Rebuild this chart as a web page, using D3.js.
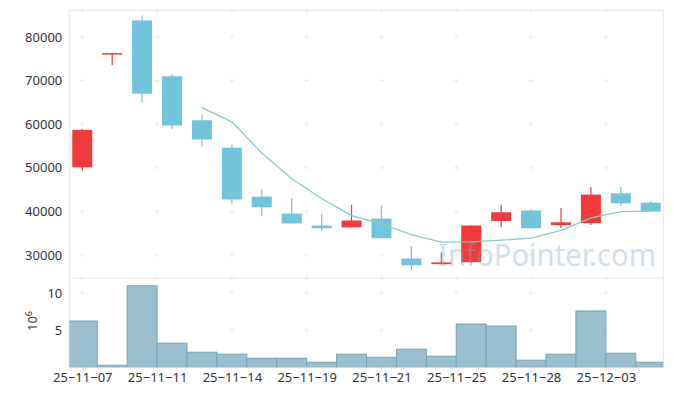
<!DOCTYPE html>
<meta charset="utf-8">
<style>
  body { margin: 0; background: #fff; }
  svg text { font-family: "Noto Sans", sans-serif; fill: #333; }
  .tick text { font-size: 13px; }
</style>
<body>
<div id="chart"></div>
<script src="https://d3js.org/d3.v7.js"></script>
<script>
  const dates = ["25-11-07", "25-11-10", "25-11-11", "25-11-12", "25-11-13", "25-11-14", "25-11-17", "25-11-18",
    "25-11-19", "25-11-20", "25-11-21", "25-11-24", "25-11-25", "25-11-26", "25-11-27", "25-11-28",
    "25-12-01", "25-12-02", "25-12-03", "25-12-04"];
  const open  = [50100, 76300, 83800, 71000, 60900, 54600, 43400, 39500, 36750, 36350, 38350, 29200, 27900, 28350, 37800, 40200, 36850, 37300, 44150, 42000];
  const high  = [58900, 76300, 85000, 71400, 62300, 55300, 45000, 43100, 39400, 41500, 41300, 32000, 30550, 36750, 41500, 40400, 40800, 45600, 45600, 42400];
  const low   = [49300, 73600, 65100, 58900, 54900, 41800, 38900, 37250, 35700, 36300, 33800, 26500, 27850, 28250, 36450, 36100, 36200, 36900, 41300, 39950];
  const close = [58700, 76300, 67000, 59700, 56500, 42750, 40950, 37250, 36150, 37900, 33850, 27650, 28300, 36750, 39800, 36150, 37500, 43850, 41850, 39950];
  // 5 day average (starts at the 5th session)
  const ma5   = [null, null, null, null, 63800, 60550, 53400, 47500, 42950, 39050, 37150, 34700, 32950, 33000, 33400, 33850, 35650, 38500, 39950, 40050];
  const volume = [6.22, 0.27, 10.95, 3.24, 2.03, 1.76, 1.22, 1.22, 0.68, 1.76, 1.35, 2.43, 1.49, 5.81, 5.54, 0.95, 1.76, 7.57, 1.89, 0.68];
  const tickPos = [0, 2.5, 5, 7.5, 10, 12.5, 15, 17.5];
  const tickLabels = ["25-11-07", "25-11-11", "25-11-14", "25-11-19", "25-11-21", "25-11-25", "25-11-28", "25-12-03"];
  const priceTicks = [30000, 40000, 50000, 60000, 70000, 80000];
  const volTicks = [5, 10];

  const width = 673, height = 396;
  const left = 69.3, right = 663.3;
  const top1 = 10.3, bot1 = 278, bot2 = 367.3;

  const svg = d3.select("#chart").append("svg")
    .attr("width", width)
    .attr("height", height);

  const x = d3.scaleLinear().domain([-0.434, 19.42]).range([left, right]);
  const band = x(1) - x(0);
  const y = d3.scaleLinear().domain([24725, 86124]).range([bot1, top1]);
  const yv = d3.scaleLinear().domain([0, 12]).range([bot2, bot1]);

  svg.append("clipPath").attr("id", "plotclip")
    .append("rect").attr("x", left).attr("y", top1).attr("width", right - left).attr("height", bot2 - top1);

  // grid as little crosses
  const grid = svg.append("g").attr("stroke", "#ececec").attr("stroke-width", 1);
  function crosses(ys) {
    tickPos.forEach(function(t) {
      ys.forEach(function(yy) {
        grid.append("line").attr("x1", x(t) - 2.5).attr("x2", x(t) + 2.5).attr("y1", yy).attr("y2", yy);
        grid.append("line").attr("x1", x(t)).attr("x2", x(t)).attr("y1", yy - 2.5).attr("y2", yy + 2.5);
      });
    });
  }
  crosses(priceTicks.map(d => y(d)).concat([top1, bot1]));
  crosses(volTicks.map(d => yv(d)).concat([bot2]));

  // frame
  const frame = svg.append("g").attr("stroke", "#e6e6e6").attr("fill", "none");
  frame.append("rect").attr("x", left).attr("y", top1).attr("width", right - left).attr("height", bot2 - top1);
  frame.append("line").attr("x1", left).attr("x2", right).attr("y1", bot1).attr("y2", bot1);

  // volume bars
  svg.append("g").attr("clip-path", "url(#plotclip)")
    .selectAll("rect").data(volume).join("rect")
    .attr("x", (d, i) => x(i) - band / 2)
    .attr("width", band)
    .attr("y", d => yv(d))
    .attr("height", d => yv(0) - yv(d))
    .attr("fill", "#9bbfcf")
    .attr("stroke", "#75a2ba")
    .attr("stroke-width", 1);

  // candles
  const candles = svg.append("g").selectAll("g").data(dates).join("g");
  const colorOf = i => close[i] >= open[i] ? "#ef3b3b" : "#72c3dc";
  candles.append("line")
    .attr("x1", (d, i) => x(i)).attr("x2", (d, i) => x(i))
    .attr("y1", (d, i) => y(high[i])).attr("y2", (d, i) => y(low[i]))
    .attr("stroke", (d, i) => colorOf(i))
    .attr("stroke-width", 1.2);
  candles.append("rect")
    .attr("x", (d, i) => x(i) - 10)
    .attr("width", 20)
    .attr("y", (d, i) => y(Math.max(open[i], close[i])))
    .attr("height", (d, i) => Math.max(1.5, Math.abs(y(open[i]) - y(close[i]))))
    .attr("fill", (d, i) => colorOf(i));

  // moving average
  const line = d3.line()
    .defined(d => d != null)
    .x((d, i) => x(i))
    .y(d => y(d));
  svg.append("path")
    .datum(ma5)
    .attr("d", line)
    .attr("fill", "none")
    .attr("stroke", "#88cdbf")
    .attr("stroke-width", 1.3);

  // axes
  const fmtDate = s => s.replace(/-/g, "\u2212");
  const xAxis = svg.append("g")
    .attr("transform", `translate(0,${bot2})`)
    .call(d3.axisBottom(x).tickValues(tickPos).tickFormat((d, i) => fmtDate(tickLabels[i])).tickSize(0).tickPadding(5));
  xAxis.select(".domain").remove();

  const yAxis = svg.append("g")
    .attr("transform", `translate(${left},0)`)
    .call(d3.axisLeft(y).tickValues(priceTicks).tickFormat(d3.format("d")).tickSize(0).tickPadding(7));
  yAxis.select(".domain").remove();

  const vAxis = svg.append("g")
    .attr("transform", `translate(${left},0)`)
    .call(d3.axisLeft(yv).tickValues(volTicks).tickFormat(d3.format("d")).tickSize(0).tickPadding(7));
  vAxis.select(".domain").remove();

  svg.selectAll(".tick text").attr("fill", "#333");

  const vLabel = svg.append("text")
    .attr("transform", "translate(37,321) rotate(-90)")
    .attr("text-anchor", "middle")
    .style("font-size", "13px");
  vLabel.append("tspan").text("10");
  vLabel.append("tspan").attr("dy", -5).style("font-size", "9px").text("6");

  // watermark
  svg.append("text")
    .attr("x", 438)
    .attr("y", 266)
    .attr("textLength", 218)
    .attr("lengthAdjust", "spacingAndGlyphs")
    .style("font-size", "30px")
    .style("fill", "#7ea9c4")
    .style("opacity", 0.35)
    .text("InfoPointer.com");
</script>
</body>
</html>
